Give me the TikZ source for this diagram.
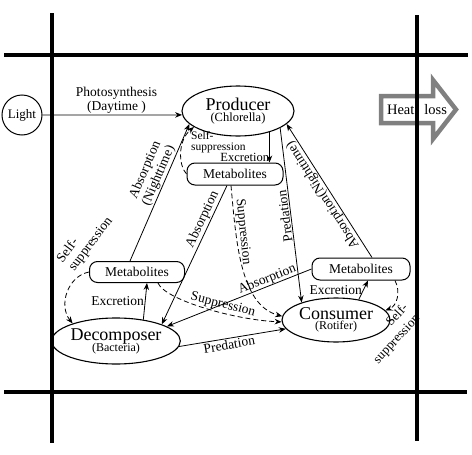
\documentclass[tikz,border=0pt]{standalone}
\usepackage{fontspec}
\setmainfont{Liberation Serif}
\usetikzlibrary{arrows.meta,shapes.geometric,calc}
\definecolor{hg}{RGB}{128,128,128}
\begin{document}
\begin{tikzpicture}[x=1pt,y=-1pt,
  lbl/.style={font=\fontsize{13.5}{14.5}\selectfont, inner sep=1pt},
  big/.style={ellipse, draw, line width=1.1pt, inner sep=0pt, align=center},
  met/.style={draw, rounded corners=8pt, line width=1pt, minimum height=22pt, minimum width=96pt, inner sep=0pt, font=\fontsize{13.5}{14}\selectfont},
  arr/.style={line width=0.8pt, -{Stealth[length=7pt,width=5.5pt]}},
  darr/.style={arr, dash pattern=on 5pt off 3pt},
  frame/.style={line width=4pt}]
\useasboundingbox (0,0) rectangle (472,455);

% heat loss arrow
\draw[line width=4.5pt, draw=hg, fill=white, line join=miter] (381,96) -- (433,96) -- (433,80) -- (456,109.5) -- (433,139) -- (433,123) -- (381,123) -- cycle;
\node[font=\fontsize{14.5}{14.5}\selectfont, inner sep=0pt] (heat) at (417,109.5) {Heat\hspace{10pt}loss};

% frame lines
\draw[frame] (4,55) -- (468,55);
\draw[frame] (4,392) -- (467,392);
\draw[frame] (52,13) -- (52,443);
\draw[frame] (417,15) -- (417,441);

% nodes
\node[circle, draw, line width=1pt, minimum size=40pt, inner sep=0pt, font=\fontsize{13}{13}\selectfont] (Light) at (22,115) {Light};
\node[big, minimum width=112pt, minimum height=50pt] (Producer) at (238,111) {\fontsize{18}{18}\selectfont Producer\\[-1pt]\fontsize{12.5}{12.5}\selectfont (Chlorella)};
\node[big, minimum width=110pt, minimum height=46pt] (Decomposer) at (116,341) {\fontsize{18}{18}\selectfont Decomposer\\[-2pt]\fontsize{12}{12}\selectfont (Bacteria)};
\node[big, minimum width=108pt, minimum height=44pt] (Consumer) at (336,320) {\fontsize{18}{18}\selectfont Consumer\\[-2pt]\fontsize{12}{12}\selectfont (Rotifer)};
\node[met] (MetTop) at (235,174) {Metabolites};
\node[met, minimum height=21pt, minimum width=95pt] (MetLeft) at (137,272) {Metabolites};
\node[met, minimum width=98pt] (MetRight) at (361,269) {Metabolites};

% connectors
\draw[arr] (Light) -- (Producer.184) node[lbl, pos=0.53, above, align=center] (lPhoto) {Photosynthesis\\(Daytime )};

\draw[arr] (Producer.-34) -- (Producer.-34 |- MetTop.north) node[lbl, pos=0.82, left=-1pt, font=\fontsize{12.5}{12.5}\selectfont] (lExc1) {Excretion};
\draw[darr] (MetTop.west) .. controls (178,165) and (178,140) .. (Producer.200);
\node[lbl, align=left, anchor=west, font=\fontsize{11.5}{11}\selectfont] (lSS1) at (190,142) {Self-\\suppression};

\draw[arr] ([xshift=-7pt]MetLeft.north) -- (Producer.195) node[lbl, pos=0.6, sloped, above, align=center] (lAbsN1) {Absorption\\(Nighttime)};

\draw[arr] ([xshift=-8pt]MetTop.south) -- (Decomposer.20) node[lbl, pos=0.27, sloped, above] (lAbs1) {Absorption};
\draw[darr] ([xshift=-4pt]MetTop.south) .. controls (236,240) and (240,305) .. (Consumer.176);
\node[lbl, rotate=-84] (lSup1) at (243,232) {Suppression};

\draw[arr] (Producer.-22) -- (Consumer.153) node[lbl, pos=0.5, rotate=97.4, anchor=south] (lPred1) {Predation};

\draw[arr] ([xshift=11pt]MetRight.north) -- (Producer.-15) node[lbl, midway, sloped, allow upside down, above] (lAbsN2) {Absorption(Nighttime)};

\draw[arr] (MetRight.west) -- (Decomposer.16) node[lbl, pos=0.29, sloped, above=-1pt] (lAbs2) {Absorption};
\draw[darr] ([xshift=21pt]MetLeft.south) .. controls (165,300) and (235,320) .. (Consumer.182);
\node[lbl, rotate=-14] (lSup2) at (223,305) {Suppression};

\draw[arr] (Decomposer.-5) -- (Consumer.190) node[lbl, pos=0.46, sloped, below] (lPred2) {Predation};

\draw[arr] (Decomposer.38) -- ([xshift=10pt]MetLeft.south) node[lbl, midway, left] (lExc2) {Excretion};
\draw[arr] (Consumer.42) -- ([xshift=7pt]MetRight.south) node[lbl, midway, left] (lExc3) {Excretion};

\draw[darr] ([xshift=34pt]MetRight.south) .. controls (401,292) and (397,306) .. (Consumer.11);
\node[lbl, rotate=47, align=right, font=\fontsize{13}{16}\selectfont] (lSS3) at (391,334) {Self-\\suppression};

\draw[darr] (MetLeft.west) .. controls (68,276) and (58,305) .. (Decomposer.158);
\node[lbl, rotate=53, align=left] (lSS2) at (85,240) {Self-\\suppression};
\end{tikzpicture}
\end{document}
